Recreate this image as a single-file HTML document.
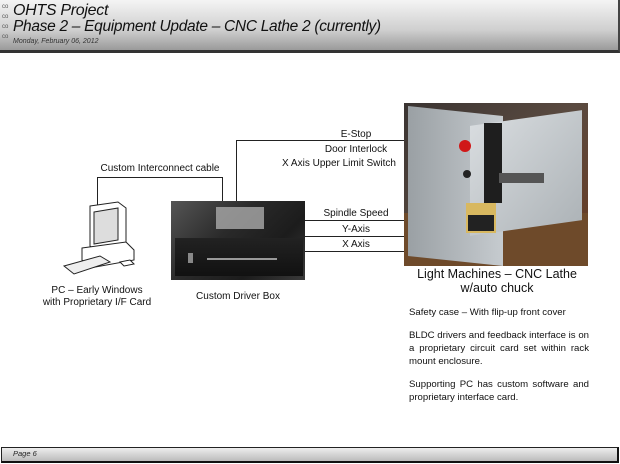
<!DOCTYPE html>
<html><head><style>
body{margin:0;width:620px;height:464px;background:#fff;position:relative;overflow:hidden;font-family:"Liberation Sans",sans-serif;}
.a{position:absolute}
.t{position:absolute;font-size:10px;color:#111;white-space:nowrap;transform:translateX(-50%)}
.l{position:absolute;background:#222}
</style></head><body>
<div class="a" style="left:0;top:0;width:618px;height:50px;background:linear-gradient(#f4f4f4,#cfcfcf 60%,#9a9a9a);border-bottom:3px solid #333;border-right:2px solid #444"></div>
<div class="a" style="left:2px;top:2px;font-size:6px;color:#555;line-height:10px">co<br>co<br>co<br>co</div>
<div class="a" style="left:13px;top:2px;font-size:16px;font-style:italic;color:#111;letter-spacing:-0.3px">OHTS Project</div>
<div class="a" style="left:13px;top:18px;font-size:15.5px;font-style:italic;color:#111;letter-spacing:-0.3px">Phase 2 – Equipment Update – CNC Lathe 2 (currently)</div>
<div class="a" style="left:13px;top:38px;font-size:7px;font-style:italic;color:#333">Monday, February 06, 2012</div>

<div class="a" style="left:1px;top:447px;width:615px;height:13px;background:linear-gradient(#eee,#bbb);border:1px solid #222;border-bottom:2px solid #111;border-right:2px solid #111"></div>
<div class="a" style="left:13px;top:449px;font-size:7.5px;font-style:italic;color:#222">Page 6</div>

<div class="l" style="left:97px;top:177px;width:1px;height:30px"></div>
<div class="l" style="left:97px;top:177px;width:125px;height:1px"></div>
<div class="l" style="left:222px;top:177px;width:1px;height:26px"></div>
<div class="l" style="left:236px;top:140px;width:1px;height:62px"></div>
<div class="l" style="left:236px;top:140px;width:170px;height:1px"></div>
<div class="l" style="left:305px;top:220px;width:101px;height:1px"></div>
<div class="l" style="left:305px;top:236px;width:101px;height:1px"></div>
<div class="l" style="left:305px;top:251px;width:101px;height:1px"></div>
<div class="t" style="left:356px;top:129px">E-Stop</div>
<div class="t" style="left:356px;top:144px">Door Interlock</div>
<div class="t" style="left:339px;top:158px">X Axis Upper Limit Switch</div>
<div class="t" style="left:160px;top:163px">Custom Interconnect cable</div>
<div class="t" style="left:356px;top:208px">Spindle Speed</div>
<div class="t" style="left:356px;top:224px">Y-Axis</div>
<div class="t" style="left:356px;top:239px">X Axis</div>

<svg class="a" style="left:60px;top:200px" width="80" height="82" viewBox="0 0 80 82">
<g stroke="#222" fill="#fff" stroke-width="1">
<polygon points="30,6 58,2 66,8 66,46 38,52 30,46"/>
<polygon points="34,12 58,8 58,40 34,44" fill="#ddd"/>
<polygon points="22,48 66,42 74,50 74,60 30,68 22,60"/>
<polygon points="4,66 40,56 50,62 14,74" fill="#eee"/>
<polygon points="60,62 70,60 74,64 64,66"/>
</g></svg>
<div class="t" style="left:97px;top:285px">PC – Early Windows</div>
<div class="t" style="left:97px;top:297px">with Proprietary I/F Card</div>

<div class="a" style="left:171px;top:201px;width:134px;height:79px;background:linear-gradient(135deg,#555 0%,#2a2a2a 40%,#1c1c1c 70%,#3a3a3a)"></div>
<div class="a" style="left:216px;top:207px;width:48px;height:22px;background:#aaa;opacity:.8"></div>
<div class="a" style="left:175px;top:238px;width:128px;height:38px;background:linear-gradient(#222,#111)"></div>
<div class="a" style="left:207px;top:258px;width:70px;height:2px;background:#999"></div>
<div class="a" style="left:188px;top:253px;width:5px;height:10px;background:#888"></div>
<div class="t" style="left:238px;top:291px">Custom Driver Box</div>

<div class="a" style="left:404px;top:103px;width:184px;height:163px;background:linear-gradient(135deg,#3a3432,#5a4a40 50%,#6a3a20);overflow:hidden">
<div class="a" style="left:0;top:110px;width:184px;height:53px;background:#6e4a2a"></div>
<div class="a" style="left:4px;top:8px;width:95px;height:150px;background:linear-gradient(90deg,#9aa0a4,#c6cbcf);transform:skewY(6deg)"></div>
<div class="a" style="left:66px;top:15px;width:112px;height:110px;background:linear-gradient(135deg,#d8dcdf,#aeb4b8);transform:skewY(-8deg)"></div>
<div class="a" style="left:80px;top:20px;width:18px;height:80px;background:#1e1e1e"></div>
<div class="a" style="left:95px;top:70px;width:45px;height:10px;background:#555"></div>
<div class="a" style="left:55px;top:37px;width:12px;height:12px;border-radius:50%;background:#d01818"></div>
<div class="a" style="left:59px;top:67px;width:8px;height:8px;border-radius:50%;background:#222"></div>
<div class="a" style="left:62px;top:100px;width:30px;height:30px;background:#d8b860"></div>
<div class="a" style="left:64px;top:112px;width:26px;height:16px;background:#222"></div>
</div>
<div class="t" style="left:497px;top:267px;font-size:12.5px">Light Machines – CNC Lathe</div>
<div class="t" style="left:497px;top:281px;font-size:12.5px">w/auto chuck</div>
<div class="a" style="left:409px;top:306px;width:180px;font-size:9.6px;line-height:13px;color:#111;text-align:justify">
<div>Safety case – With flip-up front cover</div>
<div style="margin-top:10px">BLDC drivers and feedback interface is on a proprietary circuit card set within rack mount enclosure.</div>
<div style="margin-top:10px">Supporting PC has custom software and proprietary interface card.</div>
</div>
</body></html>
